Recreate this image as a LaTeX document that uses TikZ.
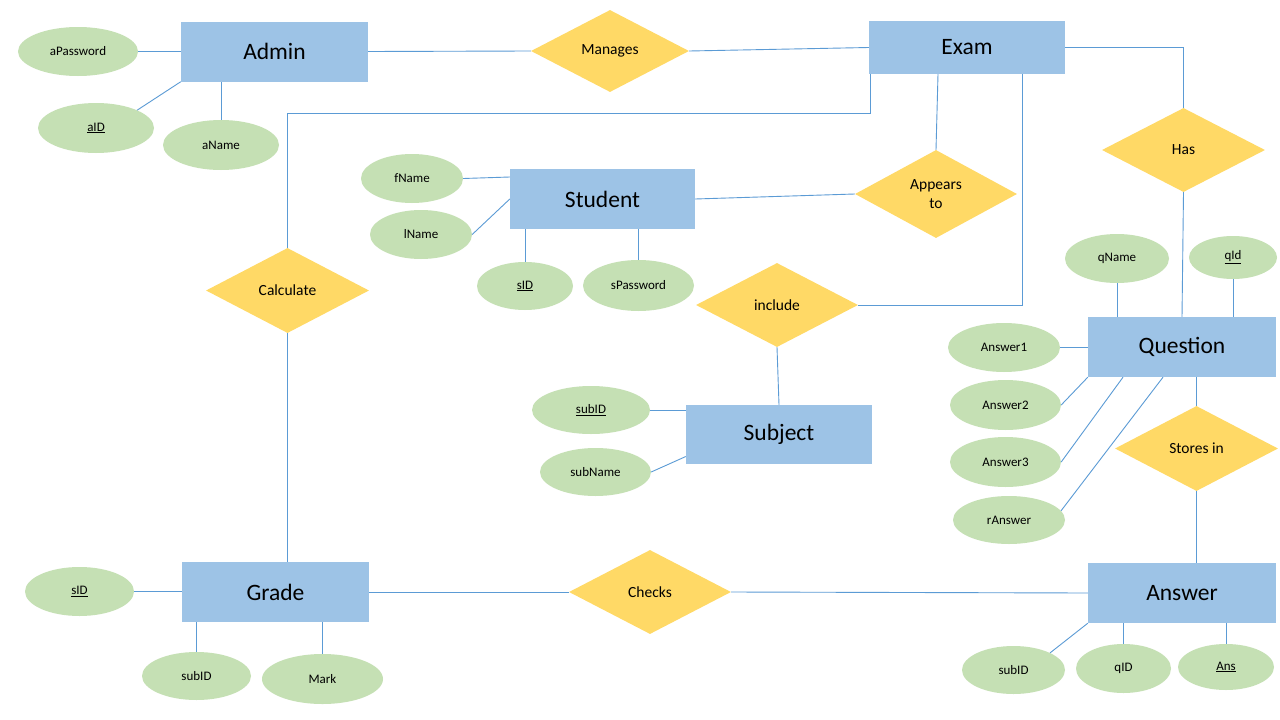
\documentclass[tikz,border=0pt]{standalone}
\usepackage{fontspec}
\setmainfont{Carlito}
\usetikzlibrary{shapes.geometric}
\definecolor{entfill}{HTML}{9DC3E6}
\definecolor{relfill}{HTML}{FFD966}
\definecolor{attfill}{HTML}{C5E0B4}
\definecolor{linecol}{HTML}{5B9BD5}
\tikzset{
  entity/.style={rectangle, fill=entfill, inner sep=0pt, minimum width=187pt, minimum height=60pt, font=\fontsize{23.5}{28}\selectfont},
  rel/.style={diamond, fill=relfill, inner sep=0pt, minimum width=162pt, minimum height=84pt, align=center, font=\fontsize{15.5}{19}\selectfont},
  att/.style={ellipse, fill=attfill, inner sep=0pt, minimum width=112pt, minimum height=49pt, font=\fontsize{13}{16}\selectfont},
  conn/.style={draw=linecol, line width=0.9pt}
}
\begin{document}
\begin{tikzpicture}[x=1pt,y=-1pt]
\useasboundingbox[fill=white] (0,0) rectangle (1280,720);
% entities
\node[entity] (admin) at (274.5,51.5) {Admin};
\node[entity, minimum width=196pt, minimum height=53pt] (exam) at (967,47.5) {Exam};
\node[entity, minimum width=185pt] (student) at (602.5,199) {Student};
\node[entity, minimum width=188pt] (question) at (1182,347) {Question};
\node[entity, minimum width=186pt, minimum height=59pt] (subject) at (779,434.5) {Subject};
\node[entity] (grade) at (275.5,592) {Grade};
\node[entity, minimum width=188pt] (answer) at (1182,593) {Answer};
% relationships
\node[rel, minimum width=158pt, minimum height=82pt] (manages) at (610,51) {Manages};
\node[rel, minimum width=163pt] (has) at (1183.5,150) {Has};
\node[rel, minimum height=88pt] (appears) at (936,194) {Appears\\to};
\node[rel, minimum width=163pt, minimum height=85pt] (calc) at (287.5,290.5) {Calculate};
\node[rel] (incl) at (777,305) {include};
\node[rel, minimum width=163pt, minimum height=85pt] (stores) at (1196.5,448.5) {Stores in};
\node[rel] (checks) at (650,592) {Checks};
% attributes
\node[att, minimum width=120pt] (apwd) at (78,51.5) {aPassword};
\node[att, minimum width=116pt, minimum height=50pt] (aid) at (96,128) {\underline{aID}};
\node[att, minimum width=116pt, minimum height=50pt] (aname) at (221,145) {aName};
\node[att, minimum width=102pt] (fname) at (412,178.5) {fName};
\node[att, minimum width=102pt] (lname) at (421,234.5) {lName};
\node[att, minimum width=96pt, minimum height=48pt] (sid) at (525,286) {\underline{sID}};
\node[att, minimum width=111pt, minimum height=51pt] (spwd) at (638.5,285.5) {sPassword};
\node[att, minimum width=104pt] (qname) at (1117,258.5) {qName};
\node[att, minimum width=88pt, minimum height=43pt] (qid) at (1233,257.5) {\underline{qId}};
\node[att] (ans1) at (1004,347.5) {Answer1};
\node[att, minimum width=111pt, minimum height=50pt] (ans2) at (1005.5,405) {Answer2};
\node[att, minimum width=111pt, minimum height=50pt] (ans3) at (1005.5,462) {Answer3};
\node[att, minimum width=112pt, minimum height=48pt] (rans) at (1009,520) {rAnswer};
\node[att, minimum width=118pt, minimum height=48pt] (subids) at (591,410) {\underline{subID}};
\node[att, minimum width=111pt, minimum height=48pt] (subname) at (595.5,472) {subName};
\node[att, minimum width=109pt] (sidg) at (79.5,591.5) {\underline{sID}};
\node[att, minimum width=109pt, minimum height=48pt] (subidg) at (196.5,676) {subID};
\node[att, minimum width=121pt, minimum height=50pt] (mark) at (322.5,679) {Mark};
\node[att, minimum width=103pt, minimum height=48pt] (subida) at (1013.5,670) {subID};
\node[att, minimum width=95pt] (qida) at (1123.5,668.5) {qID};
\node[att, minimum width=96pt, minimum height=46pt] (ansa) at (1226,667) {\underline{Ans}};
% connectors
\draw[conn] (apwd.east) -- (admin.west);
\draw[conn] (aid.north east) -- (admin.south west);
\draw[conn] (aname.north) -- (aname.north |- admin.south);
\draw[conn] (admin.east) -- (manages.west);
\draw[conn] (manages.east) -- (exam.west);
\draw[conn] ([xshift=2pt]exam.south west) -- ++(0,39) -| (calc.north);
\draw[conn] (calc.south) -- (calc.south |- grade.north);
\draw[conn] ([xshift=-29pt]exam.south) -- (appears.north);
\draw[conn] (student.east) -- (appears.west);
\draw[conn] ([xshift=-43pt]exam.south east) |- (incl.east);
\draw[conn] (exam.east) -| (has.north);
\draw[conn] (has.south) -- (question.north);
\draw[conn] (qname.south) -- (qname.south |- question.north);
\draw[conn] (qid.south) -- (qid.south |- question.north);
\draw[conn] (ans1.east) -- (ans1.east -| question.west);
\draw[conn] (ans2.east) -- (question.south west);
\draw[conn] (ans3.east) -- ([xshift=-59pt]question.south);
\draw[conn] (rans.10) -- ([xshift=-19pt]question.south);
\draw[conn] ([xshift=14.5pt]question.south) -- (stores.north);
\draw[conn] (stores.south) -- (stores.south |- answer.north);
\draw[conn] (fname.east) -- ([yshift=22pt]student.west);
\draw[conn] (lname.east) -- (student.west);
\draw[conn] (sid.north) -- (sid.north |- student.south);
\draw[conn] (spwd.north) -- (spwd.north |- student.south);
\draw[conn] (incl.south) -- (subject.north);
\draw[conn] (subids.east) -- (subids.east -| subject.west);
\draw[conn] (subname.east) -- ([yshift=-22pt]subject.west);
\draw[conn] (sidg.east) -- (sidg.east -| grade.west);
\draw[conn] (subidg.north) -- (subidg.north |- grade.south);
\draw[conn] (mark.north) -- (mark.north |- grade.south);
\draw[conn] (grade.east) -- (checks.west);
\draw[conn] (checks.east) -- (answer.west);
\draw[conn] (subida.north east) -- (answer.south west);
\draw[conn] (qida.north) -- (qida.north |- answer.south);
\draw[conn] (ansa.north) -- (ansa.north |- answer.south);
\end{tikzpicture}
\end{document}
